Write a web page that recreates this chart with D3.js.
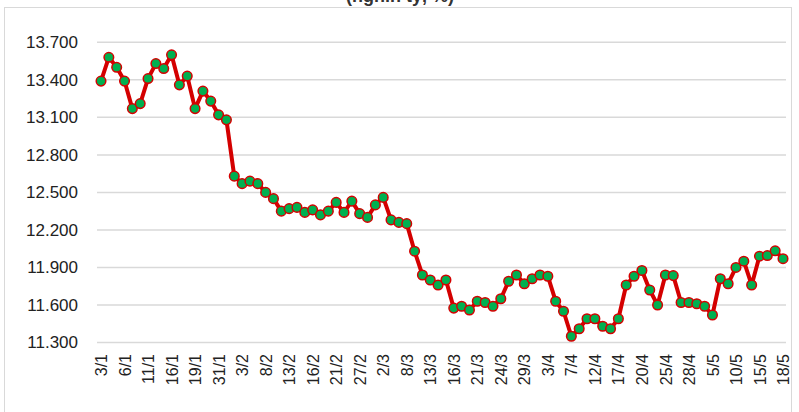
<!DOCTYPE html>
<html><head><meta charset="utf-8">
<script src="https://cdn.jsdelivr.net/npm/d3@7"></script>
<style>body{margin:0;background:#fff}svg{display:block;font-family:Arial,"Liberation Sans",sans-serif}</style>
</head><body><svg id="c" width="799" height="412"></svg>
<script>
const categories = ["3/1","4/1","5/1","6/1","9/1","10/1","11/1","12/1","13/1","16/1","17/1","18/1","19/1","20/1","30/1","31/1","1/2","2/2","3/2","6/2","7/2","8/2","9/2","10/2","13/2","14/2","15/2","16/2","17/2","20/2","21/2","22/2","23/2","27/2","28/2","1/3","2/3","6/3","7/3","8/3","9/3","10/3","13/3","14/3","15/3","16/3","17/3","20/3","21/3","22/3","23/3","24/3","27/3","28/3","29/3","30/3","31/3","3/4","4/4","5/4","7/4","10/4","11/4","12/4","13/4","14/4","17/4","18/4","19/4","20/4","21/4","24/4","25/4","26/4","27/4","28/4","2/5","3/5","5/5","8/5","9/5","10/5","11/5","14/5","15/5","16/5","17/5","18/5"];
const values = [13.39,13.58,13.50,13.39,13.17,13.21,13.41,13.53,13.49,13.60,13.36,13.43,13.17,13.31,13.23,13.12,13.08,12.63,12.57,12.59,12.57,12.50,12.45,12.35,12.37,12.38,12.34,12.36,12.32,12.35,12.42,12.34,12.43,12.33,12.30,12.40,12.46,12.28,12.26,12.25,12.03,11.84,11.80,11.76,11.80,11.575,11.59,11.56,11.63,11.62,11.59,11.65,11.79,11.84,11.77,11.81,11.84,11.83,11.63,11.55,11.35,11.41,11.49,11.49,11.43,11.41,11.49,11.76,11.83,11.876,11.72,11.60,11.84,11.835,11.62,11.62,11.61,11.59,11.52,11.81,11.77,11.90,11.95,11.76,11.99,11.995,12.033,11.97];
const yTicks = [11.3,11.6,11.9,12.2,12.5,12.8,13.1,13.4,13.7];
const yTickLabels = ["11.300","11.600","11.900","12.200","12.500","12.800","13.100","13.400","13.700"];
const xLabelEvery = 3;

const svg = d3.select("#c");
svg.append("rect").attr("x",4.5).attr("y",7.5).attr("width",787).attr("height",410).attr("fill","#fff").attr("stroke","#d9d9d9");
svg.append("text").attr("x",400).attr("y",2).attr("text-anchor","middle").attr("font-size",18).attr("font-weight","bold").attr("fill","#333").text("(nghìn tỷ, %)");

const x = d3.scalePoint().domain(categories).range([101,783]);
const y = d3.scaleLinear().domain([11.3,13.7]).range([342.5,42.3]);

const g = svg.append("g");
yTicks.forEach((t,i)=>{
  g.append("line").attr("x1",97).attr("x2",786).attr("y1",y(t)).attr("y2",y(t)).attr("stroke","#d9d9d9").attr("stroke-width",1.5);
});
const ya = d3.axisLeft(y).tickValues(yTicks).tickFormat((d,i)=>yTickLabels[i]).tickSize(0).tickPadding(0);
svg.append("g").attr("transform","translate(78,0)").call(ya).call(s=>s.select(".domain").remove())
  .selectAll("text").attr("font-size",17).attr("fill","#222").attr("font-family","Arial,'Liberation Sans',sans-serif");

const xa = d3.axisBottom(x).tickValues(categories.filter((d,i)=>i%xLabelEvery===0)).tickSize(0).tickPadding(0);
svg.append("g").attr("transform","translate(0,352)").call(xa).call(s=>s.select(".domain").remove())
  .selectAll("text").attr("font-size",16).attr("fill","#222").attr("font-family","Arial,'Liberation Sans',sans-serif")
  .attr("transform","rotate(-90)").attr("text-anchor","end").attr("dy","0.35em").attr("x",-2).attr("y",0);

svg.append("path").datum(values).attr("fill","none").attr("stroke","#d40000").attr("stroke-width",4).attr("stroke-linejoin","round")
  .attr("d",d3.line().x((d,i)=>x(categories[i])).y(d=>y(d)));
svg.append("g").selectAll("circle").data(values).join("circle")
  .attr("cx",(d,i)=>x(categories[i])).attr("cy",d=>y(d)).attr("r",4.8)
  .attr("fill","#00b050").attr("stroke","#d40000").attr("stroke-width",1.5);
</script></body></html>
